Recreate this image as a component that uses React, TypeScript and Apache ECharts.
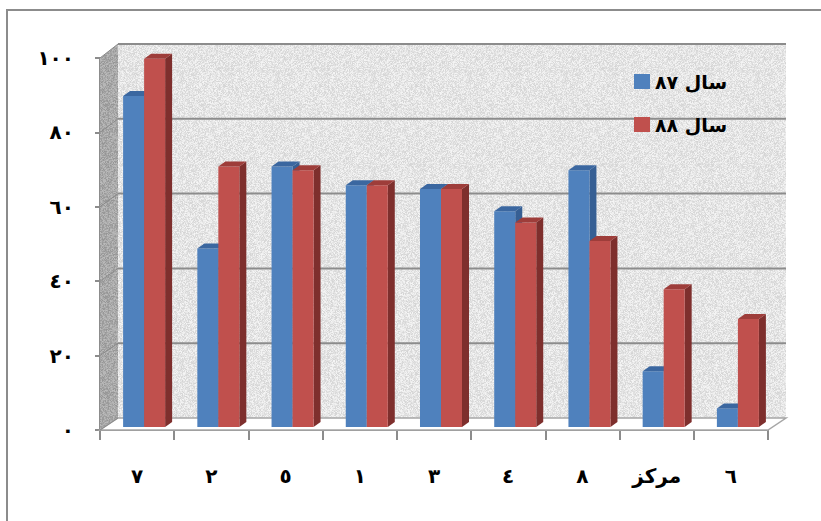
import React, { useEffect, useRef } from "react";
import * as echarts from "echarts";

const categories = ["٧", "٢", "٥", "١", "٣", "٤", "٨", "مرکز", "٦"];
const series87 = [89, 48, 70, 65, 64, 58, 69, 15, 5];
const series88 = [99, 70, 69, 65, 64, 55, 50, 37, 29];
const seriesNames = ["سال ٨٧", "سال ٨٨"];
const yTickValues = [0, 20, 40, 60, 80, 100];
const yTickLabels = ["٠", "٢٠", "٤٠", "٦٠", "٨٠", "١٠٠"];

const FONT = "DejaVu Sans";
const AXIS_GREY = "#8c8c8c";
const WALL_DX = 18;
const BAR_DX = 7;
const BAR_DY = -3;
const DEPTH_X = 7;
const DEPTH_Y = -5;

const wallDy = (v: number) => -12 - (2 * v) / 100;

function makeTexture(base: number, spread: number): HTMLCanvasElement {
  const c = document.createElement("canvas");
  c.width = 96;
  c.height = 96;
  const ctx = c.getContext("2d")!;
  const img = ctx.createImageData(96, 96);
  let s = 12345;
  const rnd = () => {
    s = (s * 1103515245 + 12345) & 0x7fffffff;
    return s / 0x7fffffff;
  };
  for (let p = 0; p < 96 * 96; p++) {
    const g = Math.max(0, Math.min(255, Math.round(base + (rnd() - 0.5) * spread)));
    img.data[p * 4] = g;
    img.data[p * 4 + 1] = g;
    img.data[p * 4 + 2] = g;
    img.data[p * 4 + 3] = 255;
  }
  ctx.putImageData(img, 0, 0);
  return c;
}

function barRenderer(side: number, front: string, topC: string, sideC: string) {
  return (params: any, api: any) => {
    const i = api.value(0);
    const v = api.value(1);
    const topPt = api.coord([i, v]);
    const basePt = api.coord([i, 0]);
    const band = api.size([1, 0])[0];
    const bw = band * 0.283;
    const x0 = topPt[0] + BAR_DX + (side === 0 ? -bw : 0);
    const x1 = x0 + bw;
    const yt = topPt[1] + BAR_DY;
    const yb = basePt[1] + BAR_DY;
    return {
      type: "group",
      children: [
        {
          type: "polygon",
          shape: {
            points: [
              [x1, yt],
              [x1 + DEPTH_X, yt + DEPTH_Y],
              [x1 + DEPTH_X, yb + DEPTH_Y],
              [x1, yb],
            ],
          },
          style: { fill: sideC },
        },
        {
          type: "rect",
          shape: { x: x0, y: yt, width: bw, height: yb - yt },
          style: { fill: front },
        },
        {
          type: "polygon",
          shape: {
            points: [
              [x0, yt],
              [x1, yt],
              [x1 + DEPTH_X, yt + DEPTH_Y],
              [x0 + DEPTH_X, yt + DEPTH_Y],
            ],
          },
          style: { fill: topC },
        },
      ],
    };
  };
}

let backTex: any = null;
let sideTex: any = null;

function wallsRenderer(params: any, api: any) {
  const cs = params.coordSys;
  const left = cs.x;
  const right = cs.x + cs.width;
  const y0 = api.coord([0, 0])[1];
  const y100 = api.coord([0, 100])[1];
  const children: any[] = [];
  children.push({
    type: "polygon",
    shape: {
      points: [
        [left + WALL_DX, y100 + wallDy(100)],
        [right + WALL_DX, y100 + wallDy(100)],
        [right + WALL_DX, y0 + wallDy(0)],
        [left + WALL_DX, y0 + wallDy(0)],
      ],
    },
    style: { fill: backTex || "#e6e6e6" },
  });
  children.push({
    type: "polygon",
    shape: {
      points: [
        [left, y100],
        [left + WALL_DX, y100 + wallDy(100)],
        [left + WALL_DX, y0 + wallDy(0)],
        [left, y0],
      ],
    },
    style: { fill: sideTex || "#a9a9a9" },
  });
  children.push({
    type: "polygon",
    shape: {
      points: [
        [left, y0],
        [right, y0],
        [right + WALL_DX, y0 + wallDy(0)],
        [left + WALL_DX, y0 + wallDy(0)],
      ],
    },
    style: { fill: "#ffffff", stroke: "#a6a6a6", lineWidth: 1.5 },
  });
  yTickValues.forEach((v) => {
    const y = api.coord([0, v])[1];
    if (v > 0) {
      children.push({
        type: "line",
        shape: { x1: left + WALL_DX, y1: y + wallDy(v), x2: right + WALL_DX, y2: y + wallDy(v) },
        style: { stroke: AXIS_GREY, lineWidth: 2 },
      });
    }
    children.push({
      type: "line",
      shape: { x1: left, y1: y, x2: left + WALL_DX, y2: y + wallDy(v) },
      style: { stroke: "#8a8a8a", lineWidth: 1 },
    });
  });
  return { type: "group", children };
}

export default function App() {
  const ref = useRef<HTMLDivElement>(null);
  useEffect(() => {
    document.body.style.margin = "0";
    try {
      backTex = { image: makeTexture(229, 34), repeat: "repeat" };
      sideTex = { image: makeTexture(168, 40), repeat: "repeat" };
    } catch (e) {
      backTex = null;
      sideTex = null;
    }
    const chart = echarts.init(ref.current!, null, { renderer: "svg" });
    chart.setOption({
      animation: false,
      backgroundColor: "#ffffff",
      graphic: [
        {
          type: "rect",
          z: -10,
          shape: { x: 7, y: 10, width: 860, height: 560 },
          style: { fill: "none", stroke: AXIS_GREY, lineWidth: 2 },
        },
      ],
      legend: {
        show: true,
        orient: "vertical",
        left: 629,
        top: 67,
        itemGap: 24,
        itemWidth: 16,
        itemHeight: 15,
        selectedMode: false,
        icon: "rect",
        data: [
          { name: seriesNames[0], itemStyle: { color: "#4f81bd" } },
          { name: seriesNames[1], itemStyle: { color: "#c0504d" } },
        ],
        textStyle: { fontFamily: FONT, fontSize: 19, fontWeight: "bold", color: "#000" },
      },
      grid: { left: 100, right: 53, top: 58, bottom: 91, containLabel: false },
      xAxis: {
        type: "category",
        data: categories,
        boundaryGap: true,
        axisLine: { show: true, lineStyle: { color: AXIS_GREY, width: 2 } },
        axisTick: { show: true, length: 10, lineStyle: { color: AXIS_GREY, width: 2 } },
        axisLabel: {
          margin: 36,
          fontFamily: FONT,
          fontSize: 20,
          fontWeight: "bold",
          color: "#000",
        },
        splitLine: { show: false },
      },
      yAxis: {
        type: "value",
        min: 0,
        max: 100,
        interval: 20,
        axisLine: { show: true, lineStyle: { color: AXIS_GREY, width: 2 } },
        axisTick: { show: true, length: 5, lineStyle: { color: AXIS_GREY, width: 2 } },
        axisLabel: {
          margin: 26,
          fontFamily: FONT,
          fontSize: 20,
          fontWeight: "bold",
          color: "#000",
          formatter: (v: number) => yTickLabels[yTickValues.indexOf(v)] ?? "",
        },
        splitLine: { show: false },
      },
      series: [
        {
          type: "custom",
          name: "walls",
          z: 1,
          clip: false,
          silent: true,
          renderItem: wallsRenderer,
          data: [[categories[0], 0]],
        },
        {
          type: "custom",
          name: seriesNames[0],
          z: 3,
          clip: false,
          itemStyle: { color: "#4f81bd" },
          renderItem: barRenderer(0, "#4f81bd", "#3b67a0", "#365f94"),
          data: categories.map((c, i) => [c, series87[i]]),
        },
        {
          type: "custom",
          name: seriesNames[1],
          z: 4,
          clip: false,
          itemStyle: { color: "#c0504d" },
          renderItem: barRenderer(1, "#c0504d", "#9e3d3a", "#7e2f2d"),
          data: categories.map((c, i) => [c, series88[i]]),
        },
      ],
    });
    return () => chart.dispose();
  }, []);
  return (
    <div
      ref={ref}
      style={{ position: "absolute", left: 0, top: 0, width: 821, height: 521 }}
    />
  );
}
